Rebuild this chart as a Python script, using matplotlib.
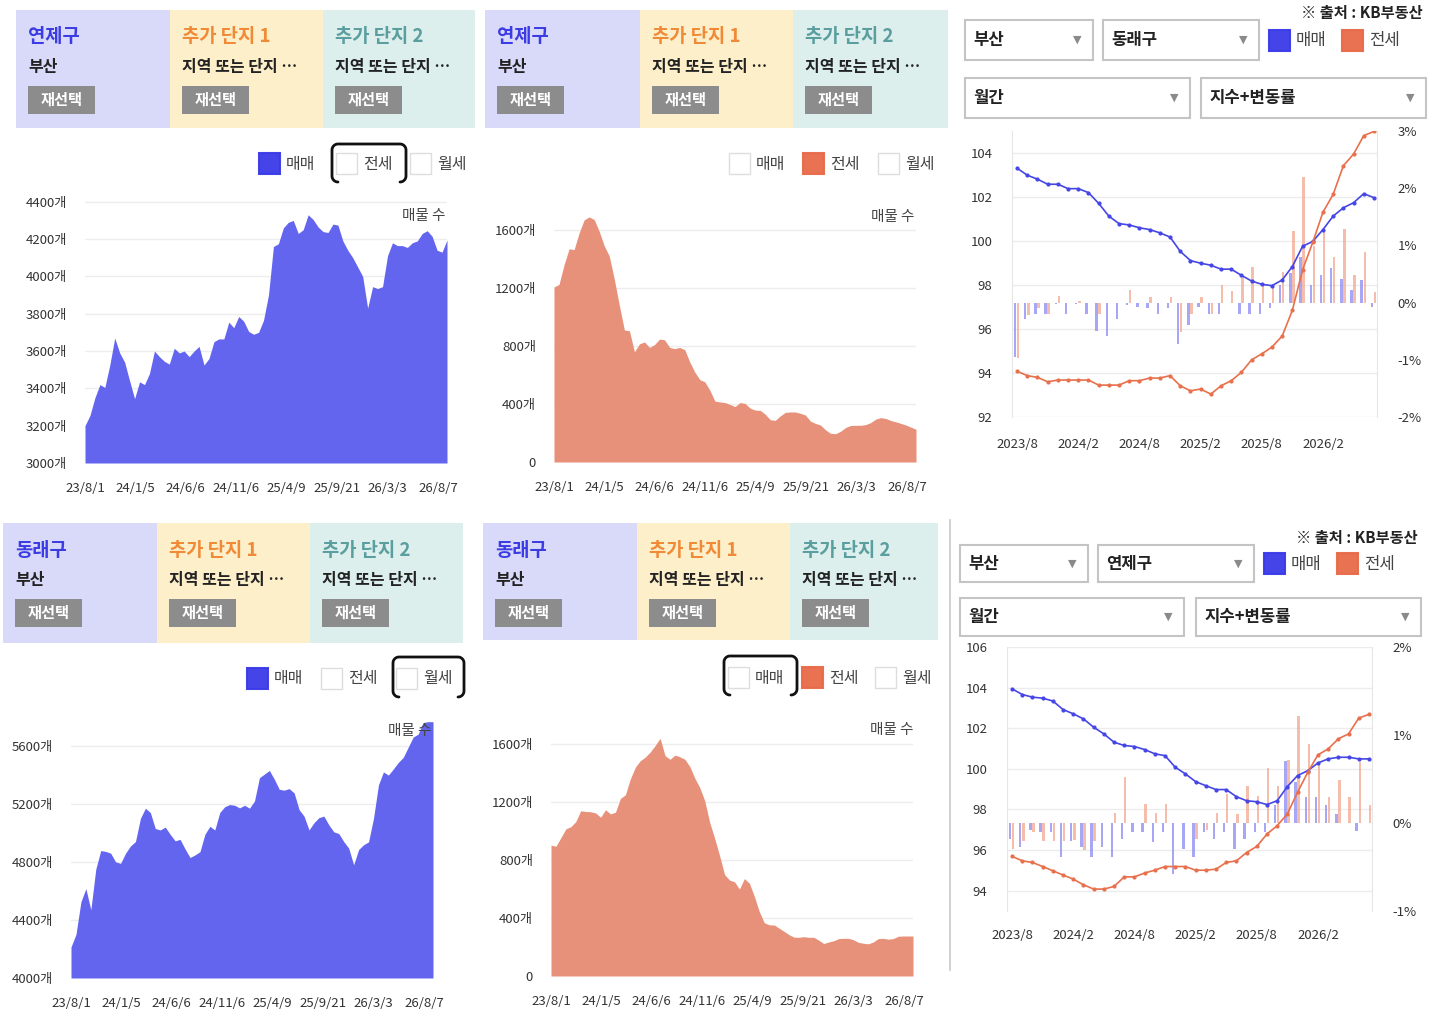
import numpy as np
import pandas as pd
import matplotlib
matplotlib.use("Agg")
import matplotlib.pyplot as plt
from matplotlib.patches import Rectangle

plt.rcParams['font.family'] = ['Noto Sans CJK KR', 'DejaVu Sans']

W, H = 1434, 1024

# ---- listing counts (매물 수), sampled along the x axis ----
date_labels = ['23/8/1', '24/1/5', '24/6/6', '24/11/6', '25/4/9', '25/9/21', '26/3/3', '26/8/7']

sale_yeonje = [3200, 3255, 3350, 3420, 3405, 3525, 3670, 3590, 3540, 3440, 3345, 3435, 3420, 3480,
               3600, 3570, 3545, 3530, 3615, 3590, 3600, 3570, 3600, 3625, 3525, 3560, 3650, 3665,
               3665, 3755, 3725, 3785, 3760, 3705, 3690, 3700, 3765, 3900, 4160, 4175, 4260, 4290,
               4300, 4230, 4250, 4330, 4305, 4265, 4240, 4235, 4280, 4275, 4190, 4140, 4100, 4050,
               4000, 3830, 3945, 3935, 3945, 4110, 4180, 4165, 4165, 4155, 4180, 4190, 4230, 4245,
               4215, 4140, 4130, 4195]

jeonse_yeonje = [1207, 1225, 1360, 1470, 1465, 1580, 1670, 1690, 1672, 1590, 1490, 1420, 1260, 1080,
                 910, 905, 760, 815, 828, 790, 810, 848, 842, 790, 782, 790, 775, 690, 620, 568,
                 553, 495, 420, 414, 410, 397, 382, 410, 404, 372, 358, 356, 330, 292, 287, 318,
                 342, 345, 345, 336, 324, 282, 266, 255, 222, 198, 195, 212, 238, 252, 253, 253,
                 258, 272, 296, 306, 300, 286, 277, 266, 255, 240, 226]

sale_dongnae = [4214, 4300, 4525, 4616, 4470, 4750, 4878, 4872, 4860, 4800, 4790, 4860, 4910, 4940,
                5100, 5170, 5140, 5030, 5020, 5040, 4990, 4945, 4955, 4890, 4830, 4848, 4870, 4990,
                5045, 5020, 5140, 5180, 5195, 5190, 5172, 5190, 5170, 5220, 5380, 5405, 5430, 5370,
                5300, 5294, 5305, 5275, 5160, 5115, 5020, 5070, 5105, 5115, 5055, 5007, 4995, 4940,
                4895, 4780, 4885, 4918, 4938, 5100, 5330, 5420, 5398, 5440, 5485, 5520, 5590, 5660,
                5680, 5760, 5766, 5766]

jeonse_dongnae = [903, 895, 955, 1015, 1030, 1065, 1140, 1135, 1133, 1125, 1095, 1147, 1118, 1130,
                  1225, 1250, 1360, 1440, 1485, 1510, 1545, 1590, 1640, 1520, 1495, 1524, 1512, 1495,
                  1445, 1365, 1300, 1210, 1060, 950, 830, 700, 662, 650, 600, 672, 640, 550, 445,
                  368, 353, 352, 330, 308, 285, 268, 267, 271, 267, 267, 247, 224, 235, 243, 258,
                  260, 260, 250, 232, 226, 222, 235, 258, 260, 254, 258, 274, 276, 276, 276]

# ---- KB monthly index and change rate ----
months = [f'{p.year}/{p.month}' for p in pd.period_range('2023-08', periods=36, freq='M')]

dongnae_sale_idx = [103.31, 102.99, 102.81, 102.58, 102.58, 102.38, 102.38, 102.20, 101.71, 101.13,
                    100.79, 100.73, 100.60, 100.52, 100.37, 100.18, 99.53, 99.11, 98.99, 98.90,
                    98.72, 98.72, 98.44, 98.18, 98.03, 97.97, 98.23, 98.84, 99.76, 99.98,
                    100.52, 101.13, 101.51, 101.74, 102.15, 101.97]
dongnae_jeonse_idx = [94.08, 93.88, 93.80, 93.60, 93.68, 93.68, 93.68, 93.68, 93.45, 93.45,
                      93.45, 93.65, 93.65, 93.77, 93.77, 93.88, 93.42, 93.19, 93.27, 93.04,
                      93.42, 93.65, 94.03, 94.60, 94.87, 95.18, 95.68, 96.85, 98.69, 99.94,
                      101.31, 102.12, 103.42, 103.95, 104.79, 104.98]
dongnae_sale_chg = [-0.95, -0.28, -0.20, -0.20, -0.02, -0.20, -0.02, -0.20, -0.49, -0.58,
                    -0.28, -0.05, -0.08, -0.10, -0.20, -0.10, -0.72, -0.40, -0.08, -0.20,
                    -0.20, 0.0, -0.20, -0.20, -0.20, -0.10, 0.30, 0.51, 0.80, 0.30,
                    0.48, 0.60, 0.42, 0.22, 0.39, -0.08]
dongnae_jeonse_chg = [-0.97, -0.22, -0.10, -0.20, 0.11, 0.0, 0.02, 0.0, -0.20, 0.0,
                      0.0, 0.22, 0.0, 0.10, 0.0, 0.10, -0.52, -0.20, 0.10, -0.20,
                      0.30, 0.20, 0.44, 0.63, 0.30, 0.28, 0.54, 1.26, 2.19, 0.99,
                      1.25, 0.80, 1.29, 0.48, 0.88, 0.18]

yeonje_sale_idx = [103.94, 103.66, 103.53, 103.48, 103.34, 102.92, 102.71, 102.46, 102.05, 101.72,
                   101.31, 101.15, 101.10, 100.95, 100.74, 100.65, 100.08, 99.75, 99.37, 99.17,
                   98.98, 98.98, 98.63, 98.43, 98.38, 98.24, 98.43, 99.13, 99.67, 99.91,
                   100.29, 100.49, 100.57, 100.57, 100.49, 100.49]
yeonje_jeonse_idx = [95.69, 95.47, 95.39, 95.19, 94.98, 94.77, 94.57, 94.29, 94.08, 94.08,
                     94.21, 94.68, 94.68, 94.87, 95.01, 95.19, 95.19, 95.19, 95.01, 95.01,
                     95.06, 95.39, 95.47, 95.88, 96.18, 96.79, 97.20, 97.78, 98.85, 99.83,
                     100.69, 100.98, 101.48, 101.72, 102.50, 102.68]
yeonje_sale_chg = [-0.18, -0.27, -0.08, -0.10, -0.10, -0.39, -0.20, -0.27, -0.39, -0.27,
                   -0.39, -0.18, -0.10, -0.10, -0.22, -0.10, -0.58, -0.29, -0.39, -0.10,
                   -0.18, -0.10, -0.29, -0.18, -0.10, -0.10, 0.20, 0.71, 0.47, 0.30,
                   0.30, 0.20, 0.10, 0.0, -0.09, 0.0]
yeonje_jeonse_chg = [-0.29, -0.20, -0.10, -0.20, -0.20, -0.20, -0.19, -0.31, -0.20, 0.0,
                     0.11, 0.52, 0.0, 0.22, 0.11, 0.22, 0.0, 0.0, -0.18, -0.08,
                     0.11, 0.33, 0.10, 0.42, 0.31, 0.62, 0.42, 0.72, 1.22, 0.90,
                     0.67, 0.30, 0.49, 0.30, 0.69, 0.20]

BLUE_AREA = '#6365ef'
ORANGE_AREA = '#e8917a'
BLUE = '#3a3ae8'
ORANGE = '#e86a4a'
LINE_BLUE = '#4646e6'
LINE_ORANGE = '#e8704c'
TXT = '#333333'

fig = plt.figure(figsize=(W / 100, H / 100), dpi=100)
ov = fig.add_axes([0, 0, 1, 1])
ov.set_xlim(0, W)
ov.set_ylim(H, 0)
ov.axis('off')


def rect(x1, y1, x2, y2):
    return [x1 / W, 1 - y2 / H, (x2 - x1) / W, (y2 - y1) / H]


def header(edges, y1, y2, title):
    fills = ['#d9d9fa', '#fcefc9', '#dcefec']
    titles = [title, '추가 단지 1', '추가 단지 2']
    tcolors = ['#3c3ce4', '#f08a36', '#5a9ea0']
    subs = ['부산', '지역 또는 단지 ⋯', '지역 또는 단지 ⋯']
    for i in range(3):
        x1, x2 = edges[i], edges[i + 1]
        ov.add_patch(Rectangle((x1, y1), x2 - x1, y2 - y1, color=fills[i], lw=0))
        ov.text(x1 + 12, y1 + 27, titles[i], color=tcolors[i], fontsize=13.5,
                fontweight='bold', va='center', ha='left')
        ov.text(x1 + 12, y1 + 57, subs[i], color='#222222', fontsize=11.5,
                fontweight='bold', va='center', ha='left')
        ov.add_patch(Rectangle((x1 + 12, y1 + 76), 67, 28, color='#8c8c8c', lw=0))
        ov.text(x1 + 45.5, y1 + 90, '재선택', color='white', fontsize=11,
                fontweight='bold', va='center', ha='center')


def legend_item(x, y, color, label, size=21, fs=11.5):
    if color is None:
        ov.add_patch(Rectangle((x, y - size / 2), size, size, facecolor='white',
                               edgecolor='#dddddd', lw=1))
    else:
        ov.add_patch(Rectangle((x, y - size / 2), size, size, facecolor=color,
                               edgecolor=color, lw=1.5, alpha=0.95))
    ov.text(x + size + 6, y + 1, label, fontsize=fs, color='#444444', va='center', ha='left')


def bracket_box(x1, y1, x2, y2, r=6):
    pts = []
    for cx, cy, a0, a1 in [(x1 + r, y2 - r, 90, 180), (x1 + r, y1 + r, 180, 270),
                           (x2 - r, y1 + r, 270, 360), (x2 - r, y2 - r, 0, 90)]:
        a = np.radians(np.linspace(a0, a1, 10))
        pts += list(zip(cx + r * np.cos(a), cy + r * np.sin(a)))
    pts = np.array(pts)
    ov.plot(pts[:, 0], pts[:, 1], color='#111111', lw=2, solid_capstyle='round')


def area_chart(box, vals, ymin, ymax, ticks, color, label_pos):
    ax = fig.add_axes(rect(*box))
    ax.set_facecolor('none')
    x = np.arange(len(vals))
    ax.fill_between(x, ymin, vals, color=color, lw=0)
    ax.set_xlim(0, len(vals) - 1)
    ax.set_ylim(ymin, ymax)
    ax.set_yticks(ticks)
    ax.set_yticklabels(['0' if t == 0 else f'{t}개' for t in ticks])
    ax.set_xticks(np.linspace(0, 0.975 * (len(vals) - 1), len(date_labels)))
    ax.set_xticklabels(date_labels)
    ax.grid(axis='y', color='#ededed', lw=1)
    ax.set_axisbelow(True)
    for s in ax.spines.values():
        s.set_visible(False)
    ax.tick_params(axis='y', length=0, pad=13, labelsize=9.5, labelcolor=TXT)
    ax.tick_params(axis='x', length=0, pad=14, labelsize=9.5, labelcolor=TXT)
    # series name drawn in page pixels but on top of the filled area
    ax.text(label_pos[0], label_pos[1], '매물 수', fontsize=10.5, color='#444444',
            ha='center', va='center', transform=ov.transData, zorder=5)
    return ax


def dropdown(x1, y1, x2, y2, text):
    ov.add_patch(Rectangle((x1, y1), x2 - x1, y2 - y1, facecolor='white',
                           edgecolor='#c4c4c4', lw=1.5))
    ov.text(x1 + 8, (y1 + y2) / 2, text, fontsize=12, fontweight='bold', color='#222222',
            va='center', ha='left')
    ov.text(x2 - 16, (y1 + y2) / 2, '▼', fontsize=8, color='#8a8a8a',
            va='center', ha='center', family='DejaVu Sans')


def combo_chart(box, sale_idx, jeonse_idx, sale_chg, jeonse_chg, lylim, lticks, rylim, rticks,
                xpad):
    axb = fig.add_axes(rect(*box))
    axb.set_facecolor('none')
    x = np.arange(len(months))
    # grid lines at the left-axis ticks, behind the bars
    for t in lticks:
        axb.axhline(rylim[0] + (t - lylim[0]) / (lylim[1] - lylim[0]) * (rylim[1] - rylim[0]),
                    color='#ececec', lw=1, zorder=0)
    axb.bar(x - 0.2, sale_chg, width=0.24, color='#8a8af2', alpha=0.75, lw=0)
    axb.bar(x + 0.1, jeonse_chg, width=0.24, color='#f2a890', alpha=0.75, lw=0)
    axb.set_ylim(*rylim)
    axb.set_xlim(-0.5, 35.3)
    axb.set_xticks(x[::6])
    axb.set_xticklabels(months[::6])
    axb.tick_params(axis='x', length=0, pad=xpad, labelsize=9.5, labelcolor=TXT)
    for s in ['top', 'bottom']:
        axb.spines[s].set_visible(False)
    for s in ['left', 'right']:
        axb.spines[s].set_color('#e6e6e6')

    axl = axb.twinx()
    axl.set_ylim(*lylim)
    axl.plot(x, sale_idx, color=LINE_BLUE, lw=1.2, marker='o', ms=2)
    axl.plot(x, jeonse_idx, color=LINE_ORANGE, lw=1.2, marker='o', ms=2)
    for s in axl.spines.values():
        s.set_visible(False)

    # index ticks on the left, change-rate ticks on the right
    axl.yaxis.tick_left()
    axl.set_yticks(lticks)
    axl.tick_params(axis='y', length=0, pad=14, labelsize=9.5, labelcolor=TXT,
                    labelleft=True, labelright=False)
    axb.yaxis.tick_right()
    axb.set_yticks(rticks)
    axb.set_yticklabels([f'{t}%' for t in rticks])
    axb.tick_params(axis='y', length=0, pad=15, labelsize=9.5, labelcolor=TXT,
                    labelleft=False, labelright=True)


# ---------------- top row ----------------
header([16, 170, 323, 475], 10, 128, '연제구')
header([485, 640, 793, 948], 10, 128, '연제구')

legend_item(259, 163, BLUE, '매매')
legend_item(336, 163, None, '전세')
legend_item(410, 163, None, '월세')
bracket_box(332, 144, 406, 182)

legend_item(729, 163, None, '매매')
legend_item(803, 163, ORANGE, '전세')
legend_item(878, 163, None, '월세')

area_chart((85, 198, 447, 463), sale_yeonje, 3000, 4420, list(range(3000, 4401, 200)),
           BLUE_AREA, (424, 216))
area_chart((554, 212, 916, 462), jeonse_yeonje, 0, 1724, [0, 400, 800, 1200, 1600],
           ORANGE_AREA, (893, 217))

# top right
ov.text(1423, 13, '※ 출처 : KB부동산', fontsize=11, fontweight='bold', color='#222222',
        ha='right', va='center')
dropdown(965, 20, 1093, 60, '부산')
dropdown(1103, 20, 1259, 60, '동래구')
dropdown(965, 78, 1190, 118, '월간')
dropdown(1201, 78, 1426, 118, '지수+변동률')
legend_item(1269, 40, BLUE, '매매', size=21, fs=12)
legend_item(1342, 40, ORANGE, '전세', size=21, fs=12)
combo_chart((1012, 131, 1377, 417), dongnae_sale_idx, dongnae_jeonse_idx,
            dongnae_sale_chg, dongnae_jeonse_chg, (92, 105.0), list(range(92, 105, 2)),
            (-2, 3), [-2, -1, 0, 1, 2, 3], 15)

# ---------------- bottom row ----------------
header([3, 157, 310, 463], 523, 643, '동래구')
header([483, 637, 790, 938], 523, 640, '동래구')

legend_item(247, 678, BLUE, '매매')
legend_item(321, 678, None, '전세')
legend_item(396, 678, None, '월세')
bracket_box(393, 657, 464, 697)

legend_item(728, 677, None, '매매')
legend_item(802, 677, ORANGE, '전세')
legend_item(875, 677, None, '월세')
bracket_box(724, 656, 797, 695)

area_chart((71, 715, 433, 978), sale_dongnae, 4000, 5812, [4000, 4400, 4800, 5200, 5600],
           BLUE_AREA, (410, 731))
area_chart((551, 730, 913, 976), jeonse_dongnae, 0, 1697, [0, 400, 800, 1200, 1600],
           ORANGE_AREA, (892, 730))

# bottom right
ov.plot([950, 950], [520, 970], color='#c8c8c8', lw=1.2)
ov.text(1418, 538, '※ 출처 : KB부동산', fontsize=11, fontweight='bold', color='#222222',
        ha='right', va='center')
dropdown(960, 545, 1088, 582, '부산')
dropdown(1098, 545, 1254, 582, '연제구')
dropdown(960, 598, 1184, 636, '월간')
dropdown(1196, 598, 1421, 636, '지수+변동률')
legend_item(1264, 563, BLUE, '매매', size=21, fs=12)
legend_item(1337, 563, ORANGE, '전세', size=21, fs=12)
combo_chart((1007, 647, 1372, 911), yeonje_sale_idx, yeonje_jeonse_idx,
            yeonje_sale_chg, yeonje_jeonse_chg, (93.0, 106.0), list(range(94, 107, 2)),
            (-1, 2), [-1, 0, 1, 2], 13)

fig.savefig('out.png', dpi=100)
